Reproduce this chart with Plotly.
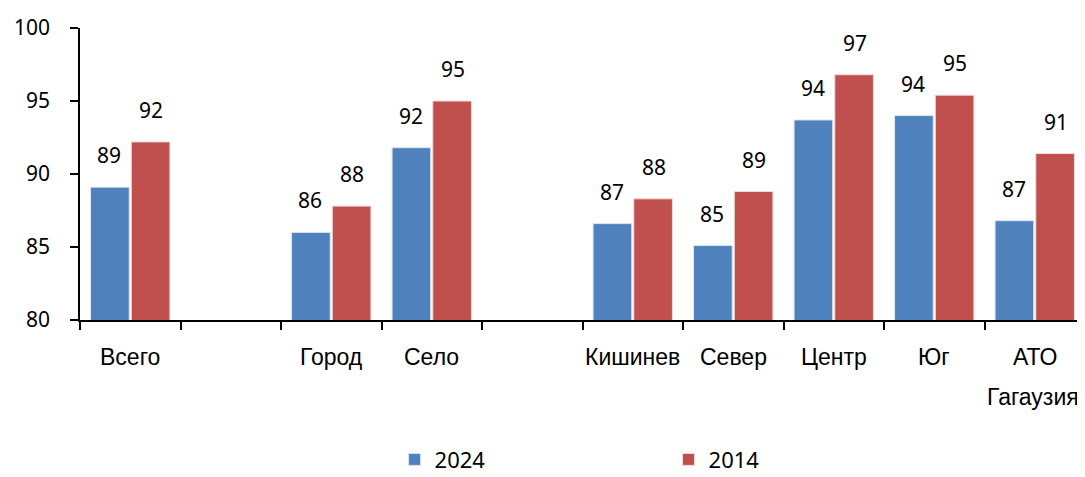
import plotly.graph_objects as go

categories = ["Всего", " ", "Город", "Село", "  ", "Кишинев", "Север", "Центр", "Юг", "АТО"]
cat_labels = ["Всего", "", "Город", "Село", "", "Кишинев", "Север", "Центр", "Юг", "АТО"]
values_2024 = [89.1, None, 86.0, 91.8, None, 86.6, 85.1, 93.7, 94.0, 86.8]
values_2014 = [92.2, None, 87.8, 95.0, None, 88.3, 88.8, 96.8, 95.4, 91.4]
y_ticks = [80, 85, 90, 95, 100]

BLUE = "#4F81BD"
RED = "#C0504D"
NUM_FONT = "Noto Sans"
CAT_FONT = "Liberation Sans"

fig = go.Figure()
fig.add_trace(go.Bar(name="2024", x=categories, y=values_2024, marker=dict(color=BLUE, line=dict(color="#dbe4f0", width=1))))
fig.add_trace(go.Bar(name="2014", x=categories, y=values_2014, marker=dict(color=RED, line=dict(color="#f0dcdc", width=1))))

ann = []
for c, v in zip(categories, values_2024):
    if v is not None:
        ann.append(dict(x=c, y=v, xref="x", yref="y", text=f"{round(v)}", showarrow=False,
                        xshift=-21, yshift=32, yanchor="middle",
                        font=dict(family=NUM_FONT, size=21, color="black")))
for c, v in zip(categories, values_2014):
    if v is not None:
        ann.append(dict(x=c, y=v, xref="x", yref="y", text=f"{round(v)}", showarrow=False,
                        xshift=21, yshift=32, yanchor="middle",
                        font=dict(family=NUM_FONT, size=21, color="black")))
for c, lab in zip(categories, cat_labels):
    if lab:
        ann.append(dict(x=c, y=0, xref="x", yref="paper", text=lab, showarrow=False,
                        yshift=-37, yanchor="middle",
                        font=dict(family=CAT_FONT, size=23, color="black")))
ann.append(dict(x=1, y=0, xref="paper", yref="paper", text="Гагаузия", showarrow=False,
                xanchor="right", xshift=-4, yshift=-77, yanchor="middle",
                font=dict(family=CAT_FONT, size=23, color="black")))

fig.update_layout(
    width=1077, height=469,
    margin=dict(l=72, r=0, t=20, b=157, autoexpand=False),
    plot_bgcolor="white", paper_bgcolor="white",
    barmode="group", bargap=0.19, bargroupgap=0.05,
    showlegend=True,
    legend=dict(orientation="h", x=0.313, y=-0.478, xanchor="left", yanchor="middle",
                entrywidth=229, entrywidthmode="pixels",
                font=dict(family=NUM_FONT, size=22, color="black")),
    annotations=ann,
    xaxis=dict(type="category", showline=True, linecolor="black", linewidth=1.5,
               ticks="outside", ticklen=8, tickcolor="black", tickwidth=1.5,
               tickson="boundaries", showticklabels=False, showgrid=False, fixedrange=True),
    yaxis=dict(range=[80, 100], tickvals=y_ticks, showline=True, linecolor="black", linewidth=1.5,
               ticks="outside", ticklen=8, tickcolor="black", tickwidth=1.5,
               showgrid=False, zeroline=False, ticklabelstandoff=16,
               tickfont=dict(family=NUM_FONT, size=21, color="black")),
)

fig.write_html("out.html")
